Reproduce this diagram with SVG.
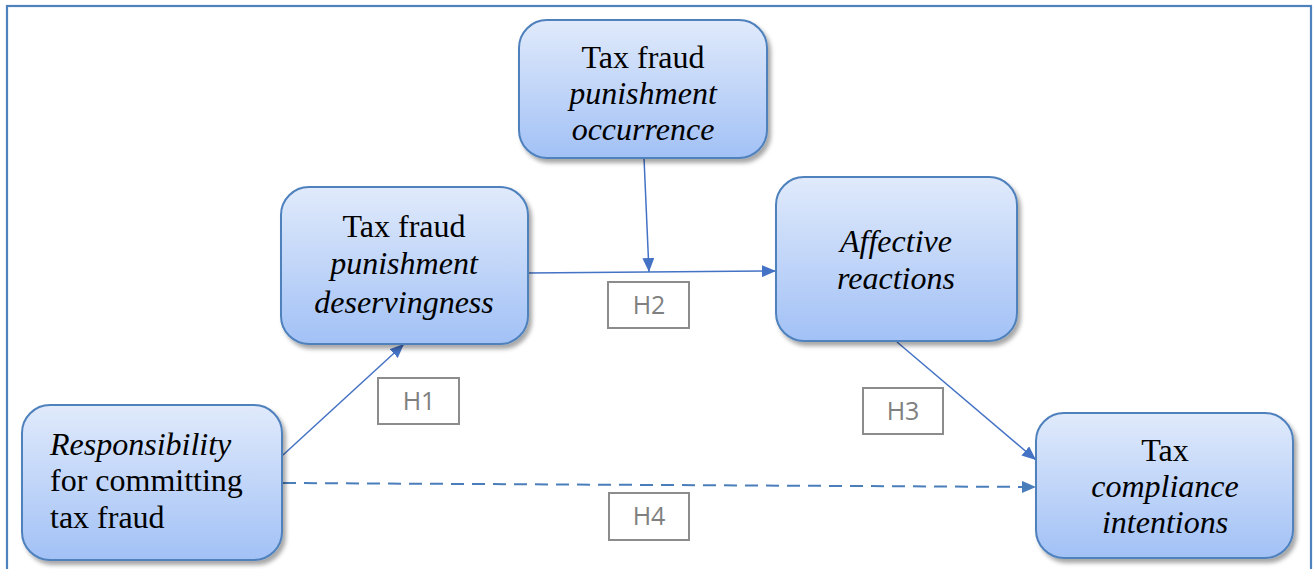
<svg xmlns="http://www.w3.org/2000/svg" width="1315" height="569" viewBox="0 0 1315 569">
  <defs>
    <linearGradient id="nodeFill" x1="0" y1="0" x2="0" y2="1">
      <stop offset="0" stop-color="#e0eafb"/>
      <stop offset="1" stop-color="#a2c1f6"/>
    </linearGradient>
    <filter id="shadow" x="-10%" y="-10%" width="125%" height="130%">
      <feDropShadow dx="3" dy="4" stdDeviation="2" flood-color="#000" flood-opacity="0.35"/>
    </filter>
    <marker id="arrow" viewBox="0 0 14 12" refX="14" refY="6" markerWidth="14" markerHeight="12" markerUnits="userSpaceOnUse" orient="auto">
      <path d="M0,0 L14,6 L0,12 Z" fill="#4472c4"/>
    </marker>
    <marker id="arrowDash" viewBox="0 0 14 12" refX="14" refY="6" markerWidth="14" markerHeight="12" markerUnits="userSpaceOnUse" orient="auto">
      <path d="M0,0 L14,6 L0,12 Z" fill="#4a7ebb"/>
    </marker>
    <style>
      .node rect { fill: url(#nodeFill); stroke: #4f81bd; stroke-width: 2; filter: url(#shadow); }
      .node text { font-size: 32px; fill: #000; }
      .it { font-style: italic; font-size: 31.5px; }
      .conn { stroke: #4472c4; stroke-width: 1.5; fill: none; }
      .dash { stroke: #4a7ebb; stroke-width: 2; stroke-dasharray: 13 8; fill: none; }
      .label rect { fill: #fff; stroke: #8c8c8c; stroke-width: 2; }
      .label text { font-size: 25px; fill: #808080; text-anchor: middle; }
    </style>
  </defs>

  <rect x="7" y="6" width="1304" height="620" fill="#fff" stroke="#4f81bd" stroke-width="2.2"/>

  <g id="connectors">
    <line class="conn" x1="283" y1="455" x2="404" y2="344" marker-end="url(#arrow)"/>
    <line class="conn" x1="528" y1="273" x2="776" y2="271" marker-end="url(#arrow)"/>
    <line class="conn" x1="644" y1="158" x2="649" y2="272" marker-end="url(#arrow)"/>
    <line class="conn" x1="897" y1="342" x2="1036" y2="460" marker-end="url(#arrow)"/>
    <line class="dash" x1="283" y1="483" x2="1036" y2="487" marker-end="url(#arrowDash)"/>
  </g>

  <g id="node-occurrence" class="node" font-family="'Liberation Serif', 'Times New Roman', serif">
    <rect x="519" y="20" width="248" height="138" rx="28"/>
    <text x="643" y="68" text-anchor="middle">Tax fraud</text>
    <text x="643" y="104" text-anchor="middle" class="it">punishment</text>
    <text x="643" y="140" text-anchor="middle" class="it">occurrence</text>
  </g>

  <g id="node-deservingness" class="node" font-family="'Liberation Serif', 'Times New Roman', serif">
    <rect x="281" y="187" width="247" height="157" rx="28"/>
    <text x="404" y="237" text-anchor="middle">Tax fraud</text>
    <text x="404" y="274" text-anchor="middle" class="it">punishment</text>
    <text x="404" y="313" text-anchor="middle" class="it">deservingness</text>
  </g>

  <g id="node-affective" class="node" font-family="'Liberation Serif', 'Times New Roman', serif">
    <rect x="776" y="177" width="241" height="164" rx="28"/>
    <text x="896" y="252" text-anchor="middle" class="it">Affective</text>
    <text x="896" y="289" text-anchor="middle" class="it">reactions</text>
  </g>

  <g id="node-responsibility" class="node" font-family="'Liberation Serif', 'Times New Roman', serif">
    <rect x="22" y="405" width="260" height="155" rx="28"/>
    <text x="50" y="455" class="it">Responsibility</text>
    <text x="50" y="491">for committing</text>
    <text x="50" y="528">tax fraud</text>
  </g>

  <g id="node-compliance" class="node" font-family="'Liberation Serif', 'Times New Roman', serif">
    <rect x="1036" y="413" width="257" height="145" rx="28"/>
    <text x="1165" y="461" text-anchor="middle">Tax</text>
    <text x="1165" y="497" text-anchor="middle" class="it">compliance</text>
    <text x="1165" y="533" text-anchor="middle" class="it">intentions</text>
  </g>

  <g id="label-h1" class="label" font-family="'Open Sans', 'Liberation Sans', sans-serif">
    <rect x="378" y="378" width="81" height="46"/>
    <text x="419" y="410">H1</text>
  </g>
  <g id="label-h2" class="label" font-family="'Open Sans', 'Liberation Sans', sans-serif">
    <rect x="608" y="282" width="81" height="46"/>
    <text x="649" y="314">H2</text>
  </g>
  <g id="label-h3" class="label" font-family="'Open Sans', 'Liberation Sans', sans-serif">
    <rect x="863" y="388" width="80" height="46"/>
    <text x="903" y="420">H3</text>
  </g>
  <g id="label-h4" class="label" font-family="'Open Sans', 'Liberation Sans', sans-serif">
    <rect x="609" y="493" width="80" height="47"/>
    <text x="649" y="525">H4</text>
  </g>
</svg>
